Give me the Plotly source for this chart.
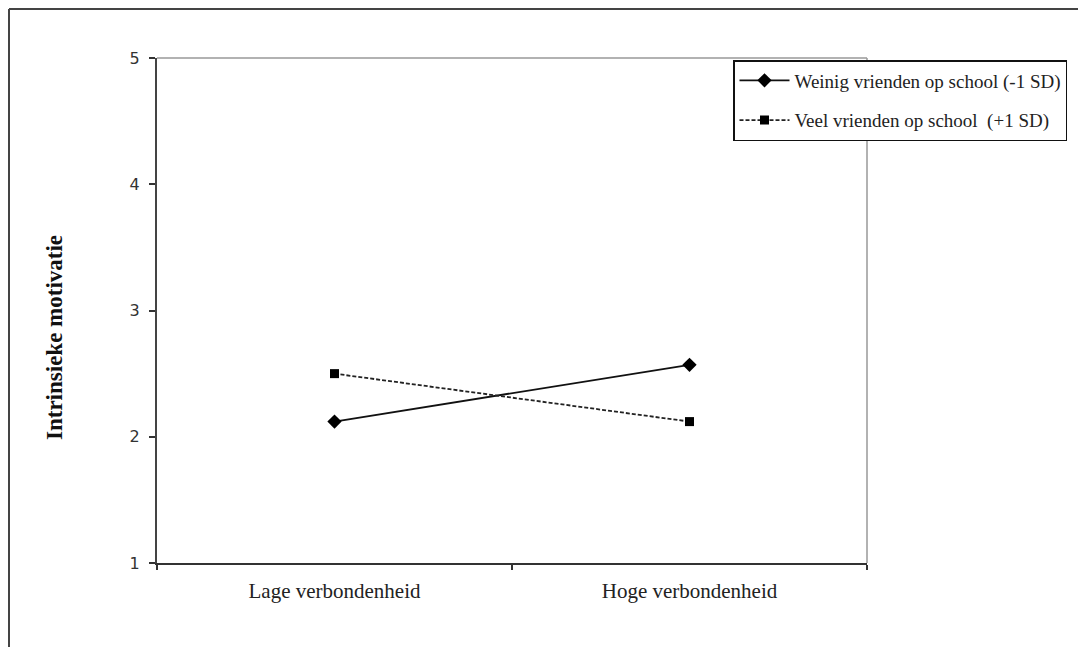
import plotly.graph_objects as go

categories = ["Lage verbondenheid", "Hoge verbondenheid"]
weinig = [2.12, 2.57]
veel = [2.50, 2.12]
series_names = ["Weinig vrienden op school (-1 SD)", "Veel vrienden op school  (+1 SD)"]
y_ticks = [1, 2, 3, 4, 5]
y_title = "Intrinsieke motivatie"

# page offset of the plotly div (default body margin)
OFF = 8
W, H = 1086 - 2 * OFF, 655 - 2 * OFF
# plot-area edges in page pixels
PL, PR, PT, PB = 157, 867, 58, 563
L, R, T, B = PL - OFF, PR - OFF, PT - OFF, PB - OFF


def px_x(p):
    return (p - PL) / (PR - PL)


def px_y(p):
    return (PB - p) / (PB - PT)


fig = go.Figure()
fig.add_trace(go.Scatter(
    x=categories, y=weinig, name=series_names[0], mode="lines+markers",
    legendgroup="a",
    line=dict(color="#111111", width=1.8, dash="solid"),
    marker=dict(symbol="diamond", size=11, color="#000000"),
))
fig.add_trace(go.Scatter(
    x=categories, y=veel, name=series_names[1], mode="lines+markers",
    legendgroup="b",
    line=dict(color="#222222", width=1.8, dash="4px,2px"),
    marker=dict(symbol="square", size=9, color="#000000"),
))

fig.update_layout(
    width=W, height=H,
    margin=dict(l=L, r=W - R, t=T, b=H - B, autoexpand=False),
    paper_bgcolor="white", plot_bgcolor="white",
    showlegend=True,
    legend=dict(
        x=px_x(733), y=px_y(60), xanchor="left", yanchor="top",
        bordercolor="#111111", borderwidth=1.5, bgcolor="white",
        font=dict(family="Liberation Serif", size=19, color="#222222"),
        traceorder="grouped", tracegroupgap=12, itemwidth=50,
    ),
    xaxis=dict(
        type="category", range=[-0.5, 1.5], tickson="boundaries",
        showline=True, linecolor="#333333", linewidth=2, mirror=False,
        ticks="outside", ticklen=5, tickcolor="#333333", tickwidth=1.5,
        ticklabelstandoff=8,
        showgrid=False, zeroline=False,
        tickfont=dict(family="Liberation Serif", size=21, color="#222222"),
    ),
    yaxis=dict(
        range=[1, 5], tickvals=y_ticks,
        showline=True, linecolor="#444444", linewidth=2,
        ticks="outside", ticklen=6, tickcolor="#333333", tickwidth=1.5,
        ticklabelstandoff=6,
        showgrid=False, zeroline=False,
        tickfont=dict(family="DejaVu Sans", size=16, color="#333333"),
    ),
    annotations=[
        dict(text="<b>" + y_title + "</b>", xref="paper", yref="paper",
             x=px_x(54), y=px_y(338), textangle=-90, showarrow=False,
             xanchor="center", yanchor="middle",
             font=dict(family="Liberation Serif", size=23, color="#111111")),
    ],
    shapes=[
        dict(type="line", xref="paper", yref="paper", x0=0, x1=1, y0=1, y1=1,
             line=dict(color="#999999", width=1.5)),
        dict(type="line", xref="paper", yref="paper", x0=1, x1=1, y0=0, y1=1,
             line=dict(color="#999999", width=1.5)),
        dict(type="line", xref="paper", yref="paper",
             x0=px_x(9), x1=px_x(1090), y0=px_y(9), y1=px_y(9),
             line=dict(color="#444444", width=2)),
        dict(type="line", xref="paper", yref="paper",
             x0=px_x(9), x1=px_x(9), y0=px_y(9), y1=px_y(660),
             line=dict(color="#444444", width=2)),
    ],
)

fig.write_html("out.html")
